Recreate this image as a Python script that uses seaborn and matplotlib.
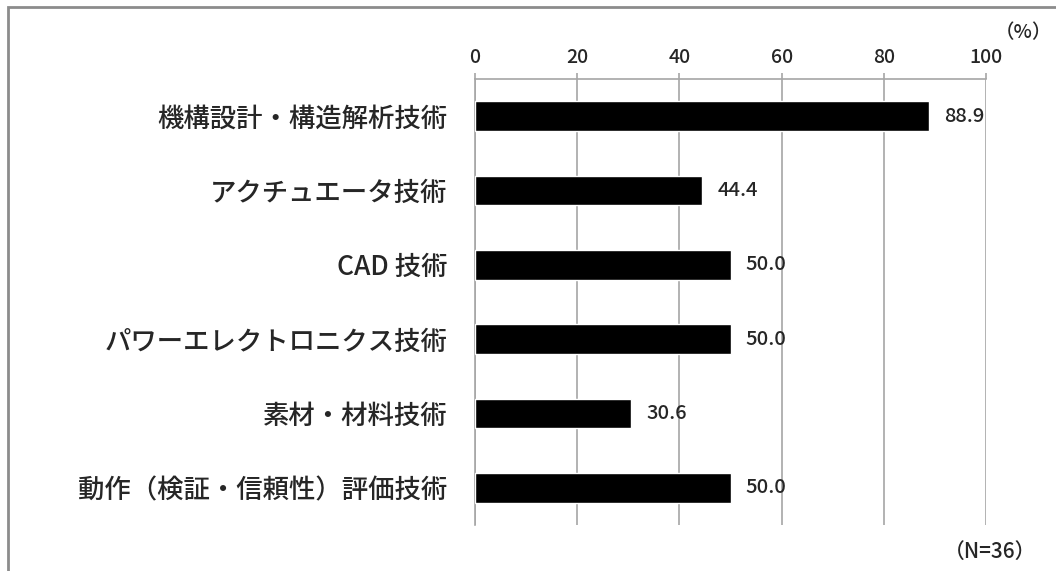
import numpy as np
import pandas as pd
import matplotlib
matplotlib.use("Agg")
import matplotlib.pyplot as plt
import seaborn as sns
from matplotlib.patches import Rectangle

categories = ["機構設計・構造解析技術", "アクチュエータ技術", "CAD 技術",
              "パワーエレクトロニクス技術", "素材・材料技術", "動作（検証・信頼性）評価技術"]
values = [88.9, 44.4, 50.0, 50.0, 30.6, 50.0]
x_ticks = [0, 20, 40, 60, 80, 100]

sns.set_style("white")
plt.rcParams["font.family"] = ["Noto Sans CJK JP", "DejaVu Sans"]
plt.rcParams["font.weight"] = "medium"

df = pd.DataFrame({"category": categories, "value": values})

fig = plt.figure(figsize=(10.56, 5.71), dpi=100)
ax = fig.add_axes([475 / 1056, 1 - 525 / 571, 511 / 1056, 446 / 571])

grid_col = "#a6a6a6"
lw = 1.2
sns.barplot(data=df, x="value", y="category", orient="h", color="black",
            width=0.4, saturation=1, ax=ax, zorder=3)

ax.set_xlim(0, 100)
ax.set_ylim(len(categories) - 0.5, -0.5)
ax.xaxis.tick_top()
ax.set_xticks(x_ticks)
ax.set_xticklabels([str(t) for t in x_ticks], fontsize=14)
ax.tick_params(axis="x", direction="out", length=4.5, width=lw, color=grid_col, pad=4)
ax.grid(axis="x", color=grid_col, linewidth=lw, zorder=0)
ax.grid(axis="y", visible=False)

# category boundaries as outward ticks on the left
ax.set_yticks(np.arange(-0.5, len(categories)), minor=True)
ax.tick_params(axis="y", which="minor", direction="out", length=6, width=lw, color=grid_col)
ax.tick_params(axis="y", which="major", length=0, pad=20)
ax.set_yticklabels(categories, fontsize=19)

ax.set_xlabel("")
ax.set_ylabel("")
for side in ["right", "bottom"]:
    ax.spines[side].set_visible(False)
for side in ["left", "top"]:
    ax.spines[side].set_color(grid_col)
    ax.spines[side].set_linewidth(lw)

for i, v in enumerate(values):
    ax.annotate(f"{v:.1f}", xy=(v, i), xytext=(11, 0), textcoords="offset points",
                ha="left", va="center", fontsize=14.5, zorder=4)

fig.text(1052 / 1056, 1 - 33 / 571, "（%）", ha="right", va="center", fontsize=14)
fig.text(1036 / 1056, 1 - 552 / 571, "（N=36）", ha="right", va="center", fontsize=15)

fig.patches.append(Rectangle((8 / 1056, -0.05), 1.2, 1 - 7 / 571 + 0.05,
                             transform=fig.transFigure, fill=False,
                             edgecolor="#8c8c8c", linewidth=2))

fig.savefig("out.png", dpi=100)
